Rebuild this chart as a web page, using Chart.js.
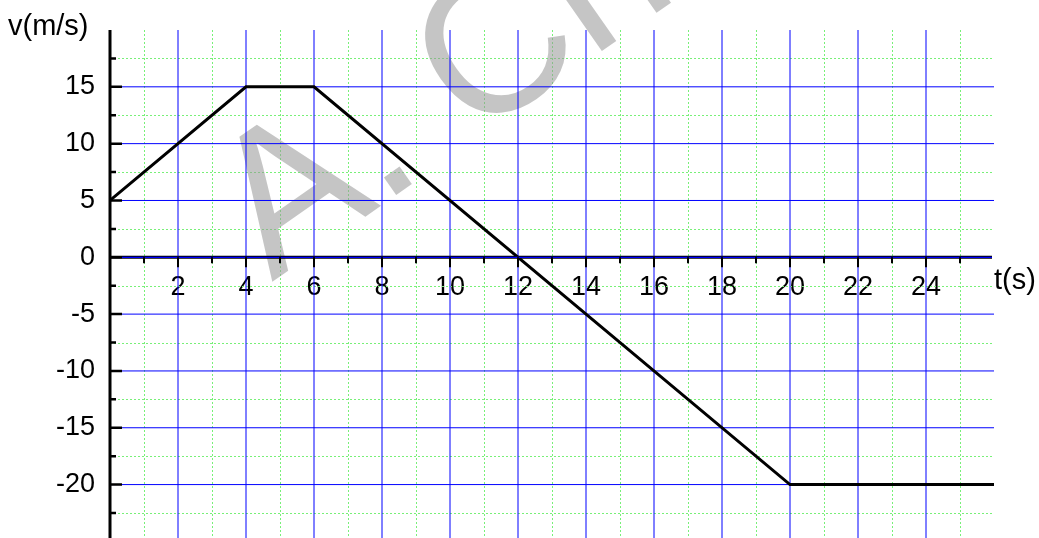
<!DOCTYPE html>
<html>
<head>
<meta charset="utf-8">
<title>v(t)</title>
<script src="https://cdn.jsdelivr.net/npm/chart.js@4.4.1/dist/chart.umd.min.js"></script>
<style>
    html, body { margin: 0; padding: 0; background: #fff; }
    #wrap { width: 1039px; height: 538px; }
</style>
</head>
<body>
<div id="wrap"><canvas id="vtChart" width="1039" height="538"></canvas></div>
<script>
// velocity–time graph data
const timeValues = [0, 4, 6, 20, 26];
const velocityValues = [5, 15, 15, -20, -20];

const xTickLabels = [2, 4, 6, 8, 10, 12, 14, 16, 18, 20, 22, 24];
const yTickLabels = [15, 10, 5, 0, -5, -10, -15, -20];
const xMinorGrid = [1, 3, 5, 7, 9, 11, 13, 15, 17, 19, 21, 23, 25];
const yMinorGrid = [17.5, 12.5, 7.5, 2.5, -2.5, -7.5, -12.5, -17.5, -22.5];

const FONT = "Arial, 'Liberation Sans', sans-serif";
const BLUE = '#0000ff';
const GREEN = 'rgb(120, 240, 120)';

// grid, watermark and hand-drawn axes (positions from the chart scales)
const graphPaper = {
    id: 'graphPaper',
    beforeDatasetsDraw(chart) {
        const { ctx, chartArea: a, scales: { x, y } } = chart;
        ctx.save();

        // dotted minor grid
        ctx.strokeStyle = GREEN;
        ctx.lineWidth = 1;
        ctx.setLineDash([2, 2]);
        ctx.beginPath();
        xMinorGrid.forEach(t => {
            const px = Math.round(x.getPixelForValue(t)) + 0.5;
            ctx.moveTo(px, a.top); ctx.lineTo(px, a.bottom);
        });
        yMinorGrid.forEach(v => {
            const py = Math.round(y.getPixelForValue(v)) + 0.5;
            ctx.moveTo(a.left, py); ctx.lineTo(a.right, py);
        });
        ctx.stroke();
        ctx.setLineDash([]);

        // faint watermark
        ctx.save();
        ctx.beginPath();
        ctx.rect(a.left, 0, a.right - a.left, a.bottom);
        ctx.clip();
        ctx.translate(272, 282);
        ctx.rotate(-35 * Math.PI / 180);
        ctx.fillStyle = 'rgba(150, 150, 150, 0.55)';
        ctx.font = '200px ' + FONT;
        ctx.fillText('A. Ch', 0, 0);
        ctx.restore();

        // major blue grid
        ctx.strokeStyle = BLUE;
        ctx.lineWidth = 1;
        ctx.beginPath();
        xTickLabels.forEach(t => {
            const px = x.getPixelForValue(t);
            ctx.moveTo(px, a.top); ctx.lineTo(px, a.bottom);
        });
        yTickLabels.filter(v => v !== 0).forEach(v => {
            const py = y.getPixelForValue(v);
            ctx.moveTo(a.left, py); ctx.lineTo(a.right, py);
        });
        ctx.stroke();
        ctx.restore();
    },
    afterDatasetsDraw(chart) {
        const { ctx, chartArea: a, scales: { x, y } } = chart;
        const y0 = y.getPixelForValue(0);
        ctx.save();

        // zero line
        ctx.strokeStyle = '#000';
        ctx.lineWidth = 3;
        ctx.beginPath();
        ctx.moveTo(a.left, y0); ctx.lineTo(a.right - 2, y0);
        ctx.stroke();
        ctx.strokeStyle = BLUE;
        ctx.lineWidth = 1.2;
        ctx.beginPath();
        ctx.moveTo(a.left, y0); ctx.lineTo(a.right - 2, y0);
        ctx.stroke();

        // x ticks below the zero line
        ctx.strokeStyle = '#000';
        ctx.lineWidth = 2;
        ctx.beginPath();
        for (let t = 1; t <= 25; t++) {
            const px = x.getPixelForValue(t);
            const len = t % 2 === 0 ? 10 : 6;
            ctx.moveTo(px, y0); ctx.lineTo(px, y0 + len);
        }
        ctx.stroke();

        // y axis
        ctx.lineWidth = 3;
        ctx.beginPath();
        ctx.moveTo(a.left, a.top); ctx.lineTo(a.left, a.bottom);
        ctx.stroke();
        ctx.lineWidth = 2.5;
        ctx.beginPath();
        yTickLabels.forEach(v => {
            const py = y.getPixelForValue(v);
            ctx.moveTo(a.left, py); ctx.lineTo(a.left + 12, py);
        });
        yMinorGrid.forEach(v => {
            const py = y.getPixelForValue(v);
            ctx.moveTo(a.left, py); ctx.lineTo(a.left + 6, py);
        });
        ctx.stroke();

        // axis titles
        ctx.fillStyle = '#000';
        ctx.font = '29px ' + FONT;
        ctx.textAlign = 'left';
        ctx.textBaseline = 'middle';
        ctx.fillText('v(m/s)', 8, 27);
        ctx.fillText('t(s)', 994, 281);
        ctx.restore();
    }
};

new Chart(document.getElementById('vtChart'), {
    type: 'line',
    data: {
        datasets: [{
            data: timeValues.map((t, i) => ({ x: t, y: velocityValues[i] })),
            borderColor: '#000',
            borderWidth: 3,
            pointRadius: 0,
            tension: 0,
            fill: false,
        }]
    },
    options: {
        responsive: false,
        animation: false,
        layout: { padding: { left: 0, top: 30, right: 45, bottom: 0 } },
        plugins: { legend: { display: false }, tooltip: { enabled: false } },
        scales: {
            x: {
                type: 'linear',
                min: 0,
                max: 26,
                position: { y: 0 },
                grid: { display: false },
                border: { display: false },
                afterFit: s => {
                    s.height = 0;
                    s.paddingLeft = s.paddingRight = s.paddingTop = s.paddingBottom = 0;
                },
                afterBuildTicks: s => { s.ticks = xTickLabels.map(v => ({ value: v })); },
                ticks: {
                    autoSkip: false,
                    maxRotation: 0,
                    padding: 6,
                    color: '#000',
                    font: { family: FONT, size: 27 },
                }
            },
            y: {
                type: 'linear',
                min: -24.7,
                max: 20,
                grid: { display: false },
                border: { display: false },
                afterFit: s => {
                    s.width = 110;
                    s.paddingTop = s.paddingBottom = 0;
                },
                afterBuildTicks: s => { s.ticks = yTickLabels.map(v => ({ value: v })); },
                ticks: {
                    padding: 7,
                    color: '#000',
                    font: { family: FONT, size: 27 },
                }
            }
        }
    },
    plugins: [graphPaper]
});
</script>
</body>
</html>
